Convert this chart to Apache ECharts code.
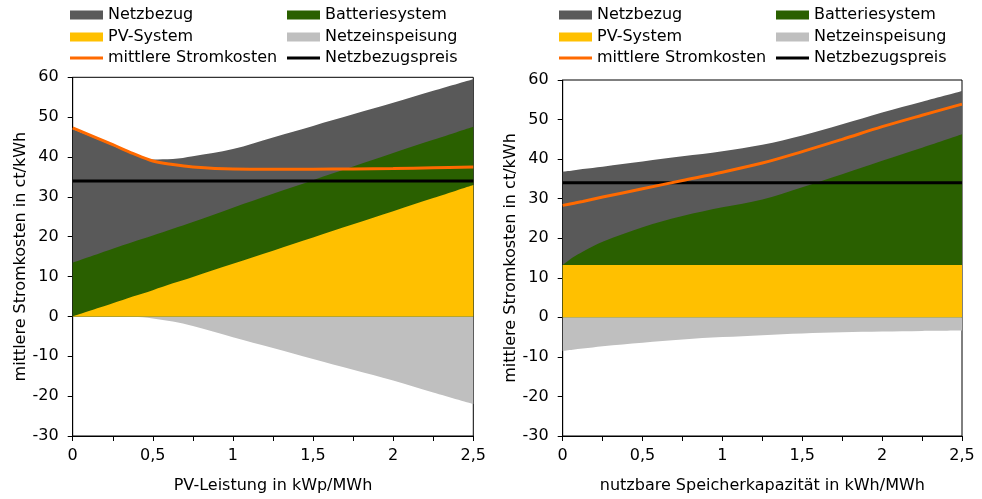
<!DOCTYPE html>
<html>
<head>
<meta charset="utf-8">
<script src="https://cdn.jsdelivr.net/npm/echarts@6/dist/echarts.min.js"></script>
<style>
  html, body { margin: 0; padding: 0; background: #fff; }
  #chart { width: 982px; height: 499px; }
</style>
</head>
<body>
<div id="chart"></div>
<script>
// Band upper edges (cumulative), in ct/kWh. Each band fills from 0 up to its edge;
// higher bands are drawn underneath lower ones, so the visible part is the band itself.

// ---- Left panel: PV capacity (kWp/MWh) ----
const pvX = [0, 0.25, 0.375, 0.5, 0.625, 0.75, 1, 1.25, 1.5, 1.75, 2, 2.25, 2.5];
const pvTopPvSystem  = [0, 3.3, 5.0, 6.6, 8.3, 9.9, 13.2, 16.5, 19.8, 23.1, 26.4, 29.7, 33.0];
const pvTopBattery   = [13.5, 17.0, 18.7, 20.3, 22.0, 23.7, 27.3, 30.8, 34.2, 37.6, 41.0, 44.3, 47.6];
const pvTopGrid      = [47.0, 42.9, 40.8, 39.4, 39.5, 40.2, 42.0, 44.9, 47.8, 50.7, 53.6, 56.6, 59.5];
const pvFeedIn       = [0, 0, -0.1, -0.5, -1.3, -2.4, -5.2, -7.9, -10.7, -13.4, -16.1, -19.1, -22.0];
const pvMeanCost     = [47.3, 43.1, 40.9, 39.0, 38.1, 37.5, 37.0, 36.95, 36.95, 37.0, 37.1, 37.3, 37.5];
const pvPriceX       = [0, 2.5];
const pvGridPrice    = [34, 34];

// ---- Right panel: usable storage capacity (kWh/MWh) ----
const stX = [0, 0.0625, 0.125, 0.25, 0.5, 0.75, 1, 1.25, 1.5, 1.75, 2, 2.25, 2.5];
const stTopPvSystem  = [13.2, 13.2, 13.2, 13.2, 13.2, 13.2, 13.2, 13.2, 13.2, 13.2, 13.2, 13.2, 13.2];
const stTopBattery   = [13.2, 15.1, 16.6, 19.1, 22.8, 25.6, 27.8, 29.8, 32.9, 36.2, 39.6, 42.9, 46.3];
const stTopGrid      = [36.8, 37.1, 37.5, 38.1, 39.4, 40.7, 42.0, 43.6, 46.0, 48.8, 51.8, 54.5, 57.2];
const stFeedIn       = [-8.5, -8.2, -7.9, -7.3, -6.4, -5.6, -5.0, -4.5, -4.1, -3.8, -3.6, -3.45, -3.35];
const stMeanCost     = [28.3, 28.8, 29.3, 30.4, 32.5, 34.6, 36.7, 39.0, 41.9, 45.0, 48.2, 51.1, 53.9];
const stPriceX       = [0, 2.5];
const stGridPrice    = [34, 34];

const yTicks = { min: -30, max: 60, interval: 10 };
const xTicks = { min: 0, max: 2.5, interval: 0.25 };

const NAMES = {
  grid: 'Netzbezug', battery: 'Batteriesystem', pv: 'PV-System',
  feed: 'Netzeinspeisung', cost: 'mittlere Stromkosten', price: 'Netzbezugspreis'
};
const COLORS = {
  grid: '#595959', battery: '#2a6000', pv: '#ffc000',
  feed: '#bfbfbf', cost: '#ff6a00', price: '#000000'
};
const BAND_Z = { grid: 2, battery: 3, pv: 4, feed: 2 };

const FONT = '"DejaVu Sans", Verdana, sans-serif';
const zip = (xs, ys) => xs.map((x, i) => [x, ys[i]]);

function areaSeries(key, xs, ys, idx) {
  return {
    name: NAMES[key], type: 'line', xAxisIndex: idx, yAxisIndex: idx,
    data: zip(xs, ys), smooth: 0.35, symbol: 'none',
    lineStyle: { width: 0 }, itemStyle: { color: COLORS[key] },
    areaStyle: { color: COLORS[key], opacity: 1, origin: 0 }, z: BAND_Z[key]
  };
}
function lineSeries(key, xs, ys, idx) {
  return {
    name: NAMES[key], type: 'line', xAxisIndex: idx, yAxisIndex: idx,
    data: zip(xs, ys), smooth: 0.35, symbol: 'none',
    lineStyle: { width: 3, color: COLORS[key] }, itemStyle: { color: COLORS[key] },
    z: key === 'cost' ? 7 : 6
  };
}

function xAxis(idx, name) {
  return {
    type: 'value', gridIndex: idx, ...xTicks,
    name: name, nameLocation: 'middle', nameGap: 42,
    nameTextStyle: { fontFamily: FONT, fontSize: 16, color: '#000' },
    axisLine: { show: true, onZero: false, lineStyle: { color: '#000', width: 1 } },
    axisTick: { show: true, length: 5, lineStyle: { color: '#000' } },
    axisLabel: {
      fontFamily: FONT, fontSize: 16, color: '#000', margin: 12,
      formatter: v => Math.abs(v * 2 - Math.round(v * 2)) < 1e-6 ? String(v).replace('.', ',') : ''
    },
    splitLine: { show: false }
  };
}
function yAxis(idx) {
  return {
    type: 'value', gridIndex: idx, ...yTicks,
    name: 'mittlere Stromkosten in ct/kWh', nameLocation: 'middle', nameGap: 44,
    nameTextStyle: { fontFamily: FONT, fontSize: 16, color: '#000' },
    axisLine: { show: true, onZero: false, lineStyle: { color: '#000', width: 1 } },
    axisTick: { show: true, length: 5, lineStyle: { color: '#000' } },
    axisLabel: { fontFamily: FONT, fontSize: 16, color: '#000', margin: 14 },
    splitLine: { show: false }
  };
}

// Legend: two columns per panel; filled swatches in two rows, line swatches below.
function legendBlock(left, top, height, items) {
  return {
    orient: 'vertical', left: left, top: top, itemWidth: 33, itemHeight: height, itemGap: 2,
    padding: 0, icon: 'rect',
    textStyle: { fontFamily: FONT, fontSize: 16, color: '#000', lineHeight: 20 },
    data: items
  };
}
const legends = [];
[[70, 287], [559, 776]].forEach(([c1, c2]) => {
  legends.push(legendBlock(c1, 5, 9, [NAMES.grid, NAMES.pv]));
  legends.push(legendBlock(c2, 5, 9, [NAMES.battery, NAMES.feed]));
  legends.push(legendBlock(c1, 48, 3, [NAMES.cost]));
  legends.push(legendBlock(c2, 48, 3, [NAMES.price]));
});

const option = {
  animation: false,
  backgroundColor: '#fff',
  legend: legends,
  grid: [
    { left: 72.7, top: 77.3, width: 400.6, height: 359.4, show: true, borderColor: '#000', borderWidth: 1 },
    { left: 562.7, top: 80, width: 399.3, height: 359.3, show: true, borderColor: '#000', borderWidth: 1 }
  ],
  xAxis: [xAxis(0, 'PV-Leistung in kWp/MWh'), xAxis(1, 'nutzbare Speicherkapazität in kWh/MWh')],
  yAxis: [yAxis(0), yAxis(1)],
  series: [
    areaSeries('grid', pvX, pvTopGrid, 0),
    areaSeries('battery', pvX, pvTopBattery, 0),
    areaSeries('pv', pvX, pvTopPvSystem, 0),
    areaSeries('feed', pvX, pvFeedIn, 0),
    lineSeries('price', pvPriceX, pvGridPrice, 0),
    lineSeries('cost', pvX, pvMeanCost, 0),

    areaSeries('grid', stX, stTopGrid, 1),
    areaSeries('battery', stX, stTopBattery, 1),
    areaSeries('pv', stX, stTopPvSystem, 1),
    areaSeries('feed', stX, stFeedIn, 1),
    lineSeries('price', stPriceX, stGridPrice, 1),
    lineSeries('cost', stX, stMeanCost, 1)
  ]
};

const chart = echarts.init(document.getElementById('chart'), null, { renderer: 'canvas' });
chart.setOption(option);
</script>
</body>
</html>
